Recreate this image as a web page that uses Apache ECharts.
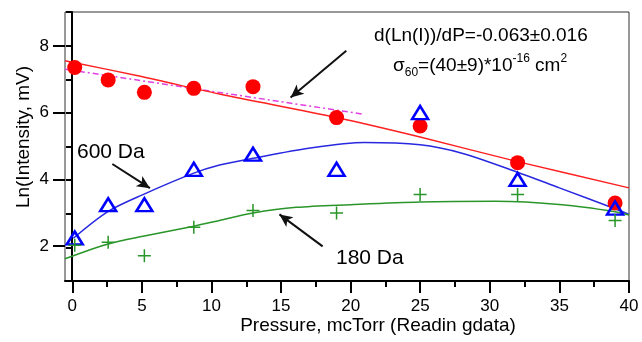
<!DOCTYPE html>
<html><head><meta charset="utf-8">
<script src="https://cdn.jsdelivr.net/npm/echarts@6/dist/echarts.min.js"></script>
<style>html,body{margin:0;padding:0;background:#fff}#c{width:642px;height:342px}</style>
</head><body><div id="c"></div>
<script>
// ---- data ----
const pressure = [0.2, 2.6, 5.2, 8.75, 13, 19, 25, 32, 39];
const lnI60 = [7.35, 6.98, 6.61, 6.73, 6.78, 5.86, 5.61, 4.52, 3.32];
const lnI600 = [2.28, 3.27, 3.27, 4.32, 4.77, 4.32, 6.01, 4.02, 3.17];
const lnI180 = [2.06, 2.15, 1.75, 2.60, 3.10, 3.02, 3.57, 3.57, 2.80];

const fit60X = [-0.5, 5, 10.6, 19, 25, 32, 40];
const fit60Y = [7.55, 7.08, 6.56, 5.86, 5.28, 4.55, 3.77];
const fit600X = [0.1, 2.6, 5.1, 8.7, 10.6, 13, 17, 21, 25, 28, 31.9, 35, 39, 40];
const fit600Y = [2.27, 3.07, 3.57, 4.2, 4.45, 4.65, 4.95, 5.12, 5.05, 4.8, 4.25, 3.77, 3.15, 2.98];
const fit180X = [-0.5, 2.6, 5.1, 8.75, 10.6, 13, 16.1, 20, 25, 30.4, 35.2, 38.9, 40];
const fit180Y = [1.66, 2.10, 2.33, 2.63, 2.80, 3.02, 3.19, 3.27, 3.35, 3.37, 3.27, 3.07, 2.96];
const slopeX = [-0.5, 20.8];
const slopeY = [7.3, 5.97];

const xTicks = [0, 5, 10, 15, 20, 25, 30, 35, 40];
const yTicks = [2, 4, 6, 8];

const arrowSlope = [[19.7, 7.85], [15.7, 6.46]];
const arrow600 = [[2.9, 4.48], [5.6, 3.76]];
const arrow180 = [[18.0, 2.03], [14.9, 2.98]];

const xTitle = 'Pressure, mcTorr (Readin gdata)';
const yTitle = 'Ln(Intensity, mV)';
const slopeText = 'd(Ln(I))/dP=-0.063±0.016';
const label600 = '600 Da';
const label180 = '180 Da';

// ---- chart ----
const zip = (a, b) => a.map((v, i) => [v, b[i]]);
const FONT = 'Liberation Sans, Arial, sans-serif';
const chart = echarts.init(document.getElementById('c'), null, {renderer: 'canvas'});

const arrowLine = (pts) => ({
  type: 'line', xAxisIndex: 0, yAxisIndex: 0, data: [], silent: true,
  markLine: {
    silent: true, symbol: ['none', 'arrow'], symbolSize: [9, 13],
    label: {show: false},
    lineStyle: {color: '#111', width: 2, type: 'solid'},
    data: [[{coord: pts[0]}, {coord: pts[1]}]]
  }
});

chart.setOption({
  animation: false,
  backgroundColor: '#fff',
  grid: [
    {left: 65, right: 13, top: 12, bottom: 61, show: true, borderColor: '#333', borderWidth: 1, backgroundColor: '#fff'},
    {left: 72.3, right: 13, top: 12, bottom: 61},
    {left: 65, right: 13, top: 46, bottom: 96}
  ],
  xAxis: [
    {gridIndex: 0, type: 'value', min: -0.5, max: 40,
     axisLine: {show: true, lineStyle: {color: '#000', width: 2}},
     axisTick: {show: false}, axisLabel: {show: false}, splitLine: {show: false}},
    {gridIndex: 1, type: 'value', min: 0, max: 40, interval: 5,
     axisLine: {show: false},
     axisTick: {show: true, length: 12, lineStyle: {color: '#000', width: 2}},
     minorTick: {show: true, splitNumber: 2, length: 6, lineStyle: {color: '#000', width: 2}},
     axisLabel: {show: true, fontSize: 17, fontFamily: FONT, color: '#000', margin: 17,
       formatter: v => xTicks.includes(v) ? String(v) : ''},
     splitLine: {show: false}},
    {gridIndex: 2, type: 'value', min: 0, max: 1, show: false}
  ],
  yAxis: [
    {gridIndex: 0, type: 'value', min: 1, max: 9, interval: 1,
     axisLine: {show: true, lineStyle: {color: '#000', width: 2}},
     axisTick: {show: true, length: 6, lineStyle: {color: '#000', width: 2}},
     axisLabel: {show: false}, splitLine: {show: false}},
    {gridIndex: 1, type: 'value', min: 0, max: 1, show: false},
    {gridIndex: 2, type: 'value', min: 2, max: 8, interval: 2,
     axisLine: {show: false},
     axisTick: {show: true, length: 12, lineStyle: {color: '#000', width: 2}},
     axisLabel: {show: true, fontSize: 17, fontFamily: FONT, color: '#000', margin: 16,
       formatter: v => yTicks.includes(v) ? String(v) : ''},
     splitLine: {show: false}}
  ],
  series: [
    {type: 'line', xAxisIndex: 0, yAxisIndex: 0, data: zip(slopeX, slopeY), showSymbol: false,
     lineStyle: {color: '#e040e0', width: 1.5, type: [6, 3, 2, 3]}, z: 2},
    {type: 'line', xAxisIndex: 0, yAxisIndex: 0, data: zip(fit60X, fit60Y), showSymbol: false, smooth: 0.3,
     lineStyle: {color: '#ff2020', width: 1.5}, z: 2},
    {type: 'line', xAxisIndex: 0, yAxisIndex: 0, data: zip(fit600X, fit600Y), showSymbol: false, smooth: 0.3,
     lineStyle: {color: '#2828e0', width: 1.5}, z: 2},
    {type: 'line', xAxisIndex: 0, yAxisIndex: 0, data: zip(fit180X, fit180Y), showSymbol: false, smooth: 0.3,
     lineStyle: {color: '#2a962a', width: 1.5}, z: 2},
    {type: 'scatter', xAxisIndex: 0, yAxisIndex: 0, data: zip(pressure, lnI60), symbol: 'circle', symbolSize: 15,
     itemStyle: {color: '#ff0000', opacity: 1}, z: 3},
    {type: 'scatter', xAxisIndex: 0, yAxisIndex: 0, data: zip(pressure, lnI600), symbol: 'triangle', symbolSize: [16, 13],
     itemStyle: {color: 'rgba(0,0,0,0)', borderColor: '#0000ff', borderWidth: 2.5, opacity: 1}, z: 4},
    {type: 'scatter', xAxisIndex: 0, yAxisIndex: 0, data: zip(pressure, lnI180),
     symbol: 'path://M0,5.3H12V6.7H0ZM5.3,0H6.7V12H5.3Z', symbolSize: 13,
     itemStyle: {color: '#2a962a', opacity: 1}, z: 4},
    arrowLine(arrowSlope), arrowLine(arrow600), arrowLine(arrow180)
  ],
  graphic: [
    {type: 'text', x: 24, y: 137, rotation: Math.PI / 2,
     style: {text: yTitle, font: '19px ' + FONT, fill: '#000', align: 'center', verticalAlign: 'middle'}},
    {type: 'text', x: 378, y: 326,
     style: {text: xTitle, font: '19px ' + FONT, fill: '#000', align: 'center', verticalAlign: 'middle'}},
    {type: 'text', x: 374, y: 36,
     style: {text: slopeText, font: '19px ' + FONT, fill: '#000', align: 'left', verticalAlign: 'middle'}},
    {type: 'text', x: 393, y: 66,
     style: {text: '{s|σ}{sub|60}{s|=(40±9)*10}{sup|-16}{s| cm}{sup|2}', fill: '#000', align: 'left', verticalAlign: 'middle',
       rich: {
         s: {fontSize: 19, fontFamily: FONT, fill: '#000', lineHeight: 26, verticalAlign: 'middle'},
         sub: {fontSize: 12, fontFamily: FONT, fill: '#000', lineHeight: 26, verticalAlign: 'bottom'},
         sup: {fontSize: 12, fontFamily: FONT, fill: '#000', lineHeight: 26, verticalAlign: 'top'}
       }}},
    {type: 'text', x: 77, y: 152,
     style: {text: label600, font: '21px ' + FONT, fill: '#000', align: 'left', verticalAlign: 'middle'}},
    {type: 'text', x: 336, y: 258,
     style: {text: label180, font: '21px ' + FONT, fill: '#000', align: 'left', verticalAlign: 'middle'}}
  ]
});
</script></body></html>
